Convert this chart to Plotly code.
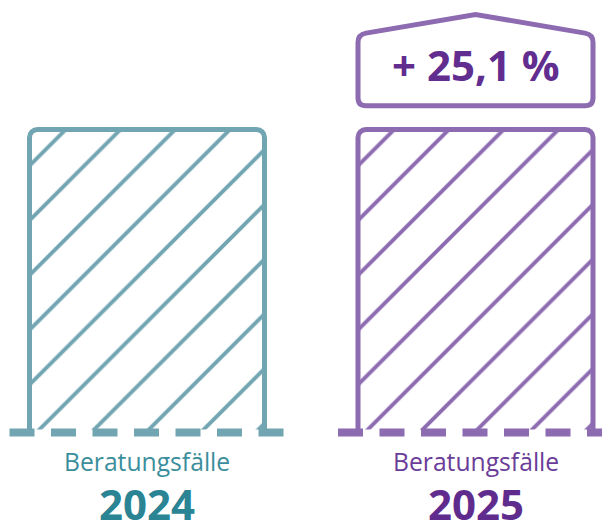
import plotly.graph_objects as go

# ---- data ----
years = ["2024", "2025"]
labels = ["Beratungsfälle", "Beratungsfälle"]
bar_values = [100, 100]          # both bars drawn at the same height in the reference
change_label = "+ 25,1 %"

# ---- styles ----
outline_colors = ["#72a5b2", "#8d6bb1"]
label_colors = ["#3b8e9c", "#6a3d98"]
year_colors = ["#2a8494", "#5f2c8e"]
change_color = "#612d8f"
box_color = "#8d6bb1"

OFF = 8                        # page body margin
W, H = 610 - OFF, 521 - OFF
PX_X = 328.5                   # pixels per x unit
PX_Y = 3.03                    # pixels per y unit
X0_PX = 147.0 - OFF            # figure x of first category
BASE_PX = 432.5 - OFF          # figure y of value 0
TOP_OFF = 15                   # plot-area top (pattern phase)

x_pos = list(range(len(years)))
bar_w = 235 / PX_X
base_half = 137.5 / PX_X

x_range = [-X0_PX / PX_X, (W - X0_PX) / PX_X]
y_bottom = -(H - BASE_PX) / PX_Y
y_range = [y_bottom, (BASE_PX - TOP_OFF) / PX_Y]
y2_range = [y_bottom, BASE_PX / PX_Y]

fig = go.Figure()

fig.add_trace(go.Bar(
    x=x_pos, y=bar_values, width=bar_w,
    marker=dict(
        color="white",
        line=dict(color=outline_colors, width=5),
        pattern=dict(shape="/", fgcolor=outline_colors, bgcolor="white",
                     size=38.71, solidity=0.1, fillmode="replace"),
    ),
    hoverinfo="skip", showlegend=False,
))

for i, xc in enumerate(x_pos):
    # hide the bar's bottom edge
    fig.add_trace(go.Scatter(
        x=[xc - bar_w / 2 - 3 / PX_X, xc + bar_w / 2 + 3 / PX_X], y=[0, 0],
        mode="lines", line=dict(color="white", width=6),
        hoverinfo="skip", showlegend=False,
    ))
    # dashed baseline
    fig.add_trace(go.Scatter(
        x=[xc - base_half, xc + base_half], y=[0, 0],
        mode="lines", line=dict(color=outline_colors[i], width=8, dash="25px,16.5px"),
        hoverinfo="skip", showlegend=False,
    ))
    fig.add_annotation(x=xc, y=0, xref="x", yref="y", text=labels[i],
                       showarrow=False, yanchor="middle", yshift=-28.5,
                       font=dict(family="Open Sans", size=24.7, color=label_colors[i]))
    fig.add_annotation(x=xc, y=0, xref="x", yref="y", text="<b>" + years[i] + "</b>",
                       showarrow=False, yanchor="middle", yshift=-71,
                       font=dict(family="Open Sans", size=42, color=year_colors[i]))

# change box with roof over the last bar (on full-height y2 axis)
xc = x_pos[-1]
top_val = bar_values[-1]
yb = top_val + 7.8
yt = top_val + 31.35
yp = top_val + 37.95
xl, xr = xc - bar_w / 2, xc + bar_w / 2
rx = 8 / PX_X
ry = 8 / PX_Y
slope = (yp - yt) / (xc - xl)
path = (
    f"M{xl},{yb + ry} L{xl},{yt - ry} "
    f"Q{xl},{yt} {xl + rx},{yt + slope * rx} "
    f"L{xc},{yp} "
    f"L{xr - rx},{yt + slope * rx} "
    f"Q{xr},{yt} {xr},{yt - ry} "
    f"L{xr},{yb + ry} Q{xr},{yb} {xr - rx},{yb} "
    f"L{xl + rx},{yb} Q{xl},{yb} {xl},{yb + ry} Z"
)
fig.add_shape(type="path", path=path, xref="x", yref="y2",
              line=dict(color=box_color, width=5), fillcolor="rgba(0,0,0,0)", layer="above")
fig.add_trace(go.Scatter(x=[xc], y=[(yb + yt) / 2], yaxis="y2", mode="markers",
                         marker=dict(opacity=0), hoverinfo="skip", showlegend=False))
fig.add_annotation(x=xc, y=(yb + yt) / 2, xref="x", yref="y2",
                   text="<b>" + change_label + "</b>", showarrow=False, yanchor="middle",
                   yshift=6,
                   font=dict(family="Open Sans", size=42, color=change_color))

fig.update_layout(
    width=W, height=H,
    margin=dict(l=0, r=0, t=0, b=0, pad=0),
    paper_bgcolor="white", plot_bgcolor="rgba(0,0,0,0)",
    barcornerradius=8,
    showlegend=False,
    xaxis=dict(range=x_range, visible=False, fixedrange=True),
    yaxis=dict(range=y_range, domain=[0, (H - TOP_OFF) / H], visible=False, fixedrange=True),
    yaxis2=dict(range=y2_range, domain=[0, 1], anchor="x", visible=False, fixedrange=True),
)

fig.write_html("out.html", config={"displayModeBar": False})
